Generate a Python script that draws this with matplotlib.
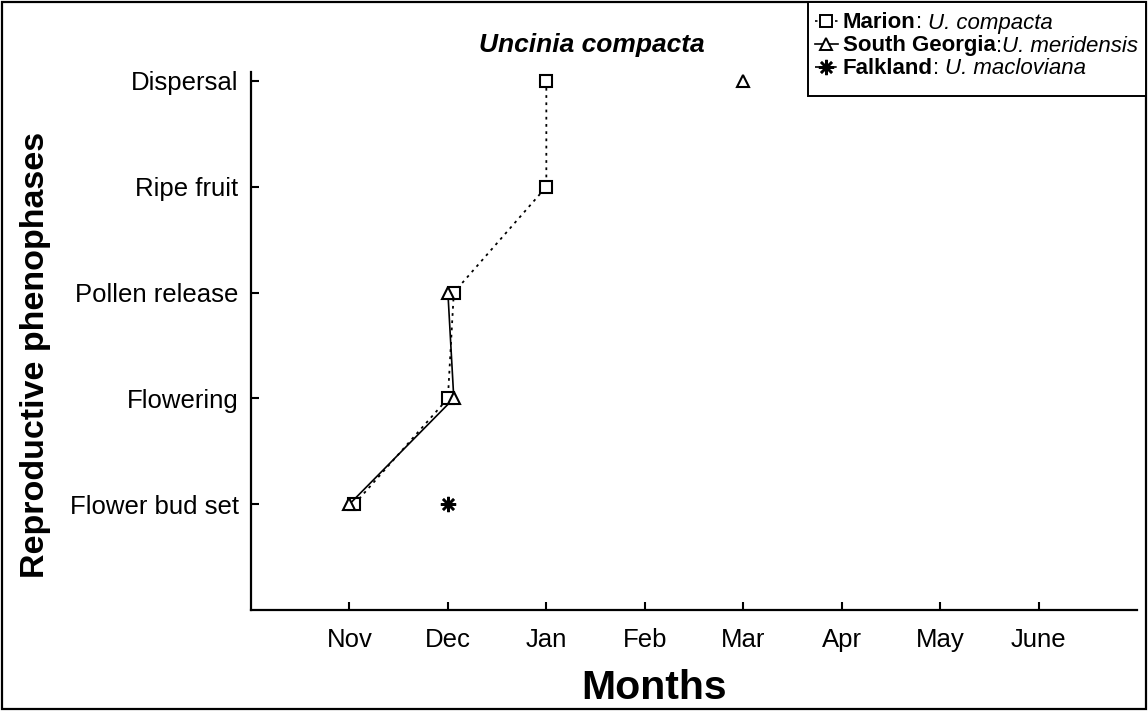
import numpy as np
import matplotlib
matplotlib.use("Agg")
import matplotlib.pyplot as plt
from matplotlib.lines import Line2D
from matplotlib.patches import Rectangle

plt.rcParams['font.family'] = ['Liberation Sans', 'DejaVu Sans']

# ---- data ----
months = ['Nov', 'Dec', 'Jan', 'Feb', 'Mar', 'Apr', 'May', 'June']
month_pos = [1, 2, 3, 4, 5, 6, 7, 8]
phases = ['Flower bud set', 'Flowering', 'Pollen release', 'Ripe fruit', 'Dispersal']
phase_pos = [1, 2, 3, 4, 5]

marion_x = [1.05, 2.0, 2.06, 3.0, 3.0]
south_georgia_x = [1.0, 2.06, 2.0, np.nan, 5.0]
falkland_x = [2.0, np.nan, np.nan, np.nan, np.nan]

W, H = 1148, 711
fig = plt.figure(figsize=(W / 100, H / 100), dpi=100)

def fx(x):
    return x / W

def fy(y):
    return 1 - y / H

ax = fig.add_axes([fx(251), fy(610), fx(1137) - fx(251), fy(72) - fy(610)])

ax.plot(marion_x, phase_pos, linestyle=(0, (1.5, 2.5)), color='black', lw=1.3,
        marker='s', markersize=8, markerfacecolor='white', markeredgecolor='black',
        markeredgewidth=1.5, zorder=3)
ax.plot(south_georgia_x, phase_pos, linestyle='-', color='black', lw=1.2,
        marker='^', markersize=8, markerfacecolor='white', markeredgecolor='black',
        markeredgewidth=1.5, zorder=4)
ax.plot(falkland_x, phase_pos, linestyle=(0, (4, 2, 1, 2)), color='black', lw=1.2,
        marker=(8, 2, 0), markersize=11, markeredgecolor='black',
        markeredgewidth=1.8, zorder=5)

ax.set_xlim(0, 9)
ax.set_ylim(0, 5.085)
ax.set_xticks(month_pos)
ax.set_xticklabels(months)
ax.set_yticks(phase_pos)
ax.set_yticklabels(phases)
ax.tick_params(axis='both', direction='in', length=6, width=1.5, labelsize=18.5)
ax.tick_params(axis='y', pad=9)
ax.tick_params(axis='x', pad=13)

for s in ['top', 'right']:
    ax.spines[s].set_visible(False)
for s in ['left', 'bottom']:
    ax.spines[s].set_linewidth(1.6)

fig.text(fx(654), fy(688), 'Months', fontsize=29.5, fontweight='bold', ha='center', va='center')
fig.text(fx(36), fy(355), 'Reproductive phenophases', fontsize=24.5, fontweight='bold',
         ha='center', va='center', rotation=90)
fig.text(fx(592), fy(45), 'Uncinia compacta', fontsize=19, fontweight='bold',
         style='italic', ha='center', va='center')

# figure border
fig.patches.append(Rectangle((fx(2), fy(709)), fx(1146) - fx(2), fy(2) - fy(709),
                             transform=fig.transFigure, fill=False, edgecolor='black',
                             lw=1.6, zorder=10))

# legend box
fig.patches.append(Rectangle((fx(808), fy(96)), fx(1146) - fx(808), fy(2) - fy(96),
                             transform=fig.transFigure, fill=True, facecolor='white',
                             edgecolor='black', lw=1.4, zorder=11))

legend_rows = [
    (21, (0, (1.5, 2.5)), 's', 8, 'white', 1.4, 'Marion', ': ', 'U. compacta'),
    (44, '-', '^', 8, 'white', 1.4, 'South Georgia', ':', 'U. meridensis'),
    (67, (0, (4, 2, 1, 2)), (8, 2, 0), 11, 'black', 1.8, 'Falkland', ': ', 'U. macloviana'),
]
renderer = fig.canvas.get_renderer()
for y, ls, mk, ms, mfc, mew, bold, sep, ital in legend_rows:
    fig.lines.append(Line2D([fx(815), fx(838)], [fy(y), fy(y)], transform=fig.transFigure,
                            linestyle=ls, color='black', lw=1.2, zorder=12))
    fig.lines.append(Line2D([fx(826)], [fy(y)], transform=fig.transFigure,
                            marker=mk, markersize=ms, markerfacecolor=mfc,
                            markeredgecolor='black', markeredgewidth=mew,
                            linestyle='none', zorder=13))
    ty = fy(y + 2)
    t1 = fig.text(fx(843), ty, bold, fontsize=16, fontweight='bold', ha='left',
                  va='center', zorder=13)
    bb = t1.get_window_extent(renderer)
    t2 = fig.text(bb.x1 / W, ty, sep, fontsize=16, ha='left', va='center', zorder=13)
    bb2 = t2.get_window_extent(renderer)
    fig.text(bb2.x1 / W, ty, ital, fontsize=16, style='italic', ha='left', va='center', zorder=13)

fig.savefig('out.png', dpi=100)
